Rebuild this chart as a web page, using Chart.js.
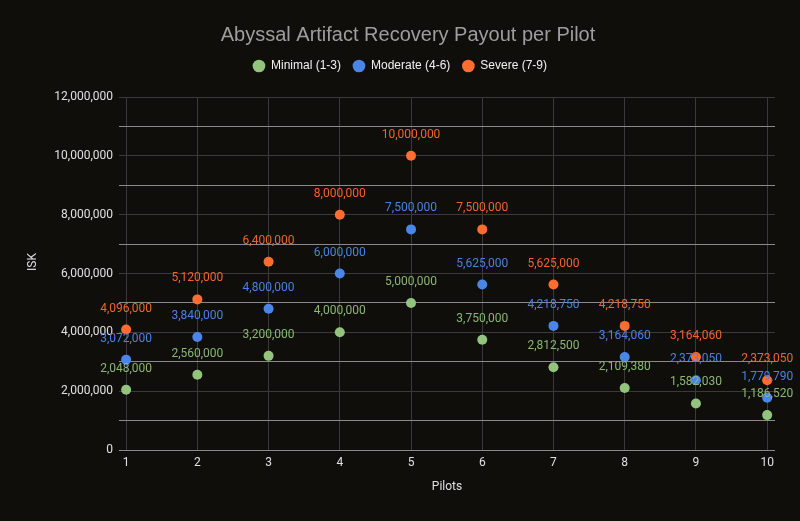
<!DOCTYPE html>
<html>
<head>
<meta charset="utf-8">
<script src="https://cdn.jsdelivr.net/npm/chart.js@4.4.1/dist/chart.umd.min.js"></script>
<style>
  html, body { margin: 0; padding: 0; background: #0f0e0b; }
  #wrap { width: 800px; height: 521px; }
</style>
</head>
<body>
<div id="wrap"><canvas id="chart"></canvas></div>
<script>
// pilots on x, payout per pilot on y
const pilots = [1, 2, 3, 4, 5, 6, 7, 8, 9, 10];
const minimal = [2048000, 2560000, 3200000, 4000000, 5000000, 3750000, 2812500, 2109380, 1582030, 1186520];
const moderate = [3072000, 3840000, 4800000, 6000000, 7500000, 5625000, 4218750, 3164060, 2373050, 1779790];
const severe = [4096000, 5120000, 6400000, 8000000, 10000000, 7500000, 5625000, 4218750, 3164060, 2373050];
const seriesNames = ['Minimal (1-3)', 'Moderate (4-6)', 'Severe (7-9)'];
const yTicks = [0, 2000000, 4000000, 6000000, 8000000, 10000000, 12000000];
const titleText = 'Abyssal Artifact Recovery Payout per Pilot';
const yTitle = 'ISK';

const pointColors = ['#93c47d', '#4a86e8', '#ff6d31'];
const labelColors = ['#8ab873', '#4a82e0', '#f0652b'];
const fmt = v => v.toLocaleString('en-US');

const toPoints = vals => vals.map((v, i) => ({ x: pilots[i], y: v }));

// value labels above each point
const pointLabels = {
  id: 'pointLabels',
  afterDatasetsDraw(chart) {
    const ctx = chart.ctx;
    ctx.save();
    ctx.font = '12px Roboto';
    ctx.textAlign = 'center';
    ctx.textBaseline = 'middle';
    chart.data.datasets.forEach((ds, i) => {
      const meta = chart.getDatasetMeta(i);
      ctx.fillStyle = labelColors[i];
      meta.data.forEach((pt, j) => {
        ctx.fillText(fmt(ds.data[j].y), pt.x, pt.y - 21);
      });
    });
    ctx.restore();
  }
};

// background, title and the y axis title (google puts these a bit off-centre)
const decor = {
  id: 'decor',
  beforeDraw(chart) {
    const ctx = chart.ctx;
    ctx.save();
    ctx.fillStyle = '#0f0e0b';
    ctx.fillRect(0, 0, chart.width, chart.height);
    ctx.restore();
  },
  afterDraw(chart) {
    const ctx = chart.ctx;
    ctx.save();
    ctx.textAlign = 'center';
    ctx.textBaseline = 'middle';
    ctx.fillStyle = '#9e9e9e';
    ctx.font = '20px "Liberation Sans"';
    ctx.fillText(titleText, 408, 35);
    ctx.fillStyle = '#e0e0e0';
    ctx.font = '12px Roboto';
    ctx.translate(33, 262);
    ctx.rotate(-Math.PI / 2);
    ctx.fillText(yTitle, 0, 0);
    ctx.restore();
  }
};

// legend takes the room down to the plot top
const legendRoom = {
  id: 'legendRoom',
  beforeLayout(chart) {
    const lg = chart.legend;
    if (lg && !lg._roomPatched) {
      const fit = lg.fit;
      lg.fit = function () {
        fit.call(this);
        this.height = 97 - 48;
      };
      lg._roomPatched = true;
    }
  }
};

new Chart(document.getElementById('chart'), {
  type: 'scatter',
  data: {
    datasets: [
      { label: seriesNames[0], data: toPoints(minimal), backgroundColor: pointColors[0], borderColor: pointColors[0] },
      { label: seriesNames[1], data: toPoints(moderate), backgroundColor: pointColors[1], borderColor: pointColors[1] },
      { label: seriesNames[2], data: toPoints(severe), backgroundColor: pointColors[2], borderColor: pointColors[2] }
    ]
  },
  options: {
    responsive: true,
    maintainAspectRatio: false,
    animation: false,
    layout: { padding: { top: 48, right: 25, bottom: 0, left: 25 } },
    elements: { point: { radius: 5, borderWidth: 0, hoverRadius: 5 } },
    plugins: {
      title: { display: false },
      legend: {
        labels: {
          color: '#f2f2f2',
          usePointStyle: true,
          pointStyle: 'circle',
          boxWidth: 16,
          boxHeight: 9,
          padding: 12,
          font: { family: 'Liberation Sans', size: 12 }
        }
      },
      tooltip: { enabled: false }
    },
    scales: {
      x: {
        type: 'linear',
        min: 0.9,
        max: 10.11,
        afterBuildTicks: axis => { axis.ticks = pilots.map(v => ({ value: v })); },
        afterFit: axis => { axis.height = 71; },
        grid: { color: '#3a3a3a', drawTicks: false },
        border: { display: false },
        ticks: { color: '#e0e0e0', padding: 6, font: { family: 'Roboto', size: 12 } },
        title: {
          display: true, text: 'Pilots', color: '#e0e0e0',
          font: { family: 'Roboto', size: 12 }, padding: { top: 4, bottom: 27 }
        }
      },
      y: {
        min: 0,
        max: 12000000,
        afterBuildTicks: axis => {
          const t = [];
          for (let v = 0; v <= 12000000; v += 1000000) t.push({ value: v });
          axis.ticks = t;
        },
        afterFit: axis => { axis.width = 94; },
        grid: {
          drawTicks: false,
          color: c => {
            const v = c.tick ? c.tick.value : 0;
            if (v === 0) return '#8a8a8a';
            return yTicks.includes(v) ? '#3a3a3a' : '#8a8a8a';
          }
        },
        border: { display: false },
        ticks: {
          color: '#e0e0e0',
          padding: 6,
          font: { family: 'Roboto', size: 12 },
          callback: v => yTicks.includes(v) ? fmt(v) : ''
        }
      }
    }
  },
  plugins: [decor, legendRoom, pointLabels]
});
</script>
</body>
</html>
